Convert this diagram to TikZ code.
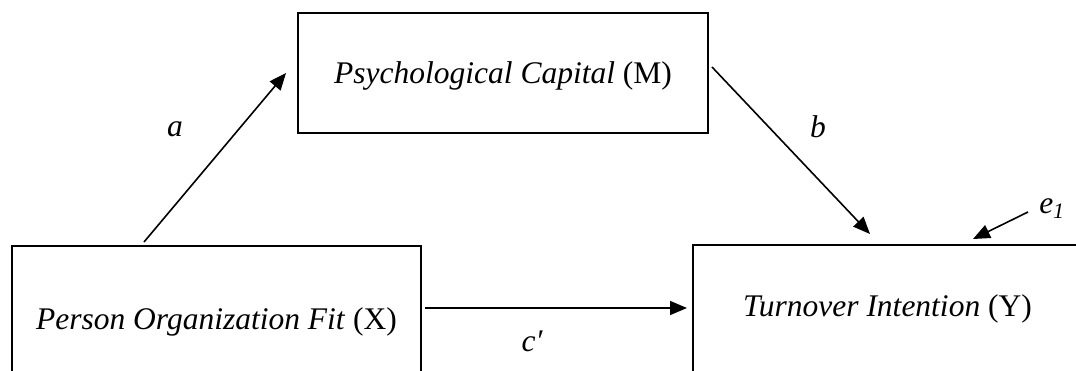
\documentclass[tikz,border=0pt]{standalone}
\usepackage{fontspec}
\setmainfont{Liberation Serif}
\usetikzlibrary{arrows.meta,calc}
\begin{document}
\begin{tikzpicture}[x=1pt,y=-1pt,
  varbox/.style={draw, line width=1.6pt, inner xsep=0pt, inner ysep=0pt, outer sep=0pt, anchor=north west, font=\fontsize{31.5}{36}\selectfont},
  pathlabel/.style={font=\fontsize{31.5}{36}\selectfont\itshape, inner sep=0pt, anchor=base},
  arr/.style={line width=1.6pt, -{Triangle[length=17pt,width=14pt]}}]
\useasboundingbox (0,0) rectangle (1076,370);
\clip (0,0) rectangle (1076,370);
\node[varbox, minimum width=410pt, text height=70pt, text depth=50pt] (M) at (298,13) {\textit{Psychological Capital} (M)};
\node[varbox, minimum width=409pt, text height=83pt, text depth=80pt] (X) at (12,246) {\textit{Person Organization Fit} (X)};
\node[varbox, minimum width=389pt, text height=71pt, text depth=90pt] (Y) at (693,245) {\textit{Turnover Intention} (Y)};
\coordinate (e1tail) at (1028,212);
\draw[arr] ($(X.north west)+(132,-4)$) -- ($(M.north west)+(-12,60)$);
\draw[arr] ($(M.north east)+(4,54)$) -- ($(Y.north west)+(177,-11)$);
\draw[arr] ($(X.north east)+(4,62)$) -- ($(Y.north west)+(-6,63)$);
\draw[arr] (e1tail) -- ($(Y.north west)+(280,-6)$);
\node[pathlabel] (la) at (175,136) {a};
\node[pathlabel] (lb) at (818,137) {b};
\node[pathlabel] (lc) at (532,351) {c′};
\node[pathlabel] (le) at (1052,213) {e\textsubscript{1}};
\end{tikzpicture}
\end{document}
